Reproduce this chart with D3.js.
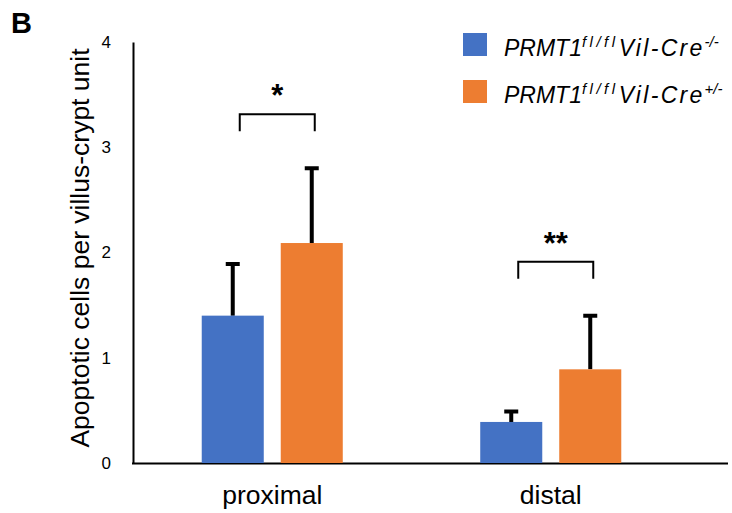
<!DOCTYPE html>
<html>
<head>
<meta charset="utf-8">
<script src="https://cdn.jsdelivr.net/npm/d3@7"></script>
<style>
	body { margin: 0; background: #fff; }
	text { font-family: "Liberation Sans", Arial, sans-serif; }
</style>
</head>
<body>
<script>
// data
const categories = ["proximal", "distal"];
const seriesNames = ["-/-", "+/-"];
const meansKO = [1.4, 0.39];
const meansCre = [2.09, 0.89];
const errKO = [0.49, 0.1];
const errCre = [0.71, 0.51];
const yTicks = [0, 1, 2, 3, 4];
const stars = ["*", "**"];

const width = 732, height = 513;
const colors = ["#4472C4", "#ED7D31"];

const svg = d3.select("body").append("svg")
	.attr("width", width)
	.attr("height", height);

let yScale = d3.scaleLinear().domain([0, 4]).range([463, 42]);
let xScale = d3.scaleBand().domain(categories).range([133, 690]);
let xInner = d3.scaleBand().domain(seriesNames).range([0, xScale.bandwidth()])
	.paddingInner(0.215).paddingOuter(0.87);

// y axis
let yAxis = d3.axisLeft(yScale).tickValues(yTicks).tickSize(0).tickPadding(22).tickFormat(d3.format("d"));
let yg = svg.append("g").attr("transform", "translate(133,0)").call(yAxis);
yg.select(".domain").attr("stroke", "#000").attr("stroke-width", 2);
yg.selectAll("text").attr("font-size", 17).attr("fill", "#000")
	.attr("font-family", "'Liberation Sans', Arial, sans-serif");

// x axis line
let xAxis = d3.axisBottom(xScale).tickSize(0).tickPadding(22);
let xg = svg.append("g").attr("transform", "translate(0,463)").call(xAxis);
xg.select(".domain").attr("d", "M132,0.5H728").attr("stroke", "#000").attr("stroke-width", 2);
xg.selectAll("text").attr("font-size", 26.5).attr("fill", "#000")
	.attr("font-family", "'Liberation Sans', Arial, sans-serif")
	.attr("dy", "0.71em");

// bars
const rows = categories.map((c, i) => ({
	cat: c,
	vals: [
		{ s: seriesNames[0], v: meansKO[i], e: errKO[i], col: colors[0] },
		{ s: seriesNames[1], v: meansCre[i], e: errCre[i], col: colors[1] }
	]
}));

const groups = svg.selectAll(".grp").data(rows).enter().append("g")
	.attr("class", "grp")
	.attr("transform", (d) => "translate(" + xScale(d.cat) + ",0)");

// error bars (drawn first, bar covers lower half)
groups.selectAll(".err").data((d) => d.vals).enter().append("path")
	.attr("class", "err")
	.attr("d", (d) => {
		let cx = xInner(d.s) + xInner.bandwidth() / 2;
		let top = yScale(d.v + d.e);
		return "M" + cx + "," + yScale(d.v) + "V" + top + "M" + (cx - 7) + "," + top + "H" + (cx + 7);
	})
	.attr("stroke", "#000").attr("stroke-width", 4).attr("fill", "none");

groups.selectAll("rect").data((d) => d.vals).enter().append("rect")
	.attr("x", (d) => xInner(d.s))
	.attr("width", xInner.bandwidth())
	.attr("y", (d) => yScale(d.v))
	.attr("height", (d) => yScale(0) - yScale(d.v))
	.attr("fill", (d) => d.col);

// significance brackets
groups.each(function (d, i) {
	let g = d3.select(this);
	let x1 = xInner(seriesNames[0]) + xInner.bandwidth() / 2 + 7;
	let x2 = xInner(seriesNames[1]) + xInner.bandwidth() / 2 + 3;
	let top = yScale(d3.max(d.vals, (v) => v.v + v.e)) - 54;
	g.append("path")
		.attr("d", "M" + x1 + "," + (top + 17) + "V" + top + "H" + x2 + "V" + (top + 17))
		.attr("stroke", "#000").attr("stroke-width", 2).attr("fill", "none");
	g.append("text")
		.attr("x", (x1 + x2) / 2)
		.attr("y", top - 8)
		.attr("text-anchor", "middle")
		.attr("font-size", 31)
		.attr("font-weight", "bold")
		.text(stars[i]);
});

// y label
svg.append("text")
	.attr("transform", "translate(89,248) rotate(-90)")
	.attr("text-anchor", "middle")
	.attr("font-size", 26.5)
	.text("Apoptotic cells per villus-crypt unit");

// panel letter
svg.append("text")
	.attr("x", 11).attr("y", 33)
	.attr("font-size", 29).attr("font-weight", "bold")
	.text("B");

// legend
const legend = svg.append("g").attr("transform", "translate(463,33)");
seriesNames.forEach((s, i) => {
	let row = legend.append("g").attr("transform", "translate(0," + i * 47 + ")");
	row.append("rect").attr("width", 24).attr("height", 23).attr("fill", colors[i]);
	let t = row.append("text").attr("x", 41).attr("y", 23)
		.attr("font-size", 23).attr("font-style", "italic");
	t.append("tspan").text("PRMT1");
	t.append("tspan").attr("font-size", 15).attr("dy", -9).attr("letter-spacing", 3.5).text("fl/fl");
	t.append("tspan").attr("dy", 9).attr("letter-spacing", 2.3).text("Vil-Cre");
	t.append("tspan").attr("font-size", 15).attr("dy", -9).text(s);
});
</script>
</body>
</html>
